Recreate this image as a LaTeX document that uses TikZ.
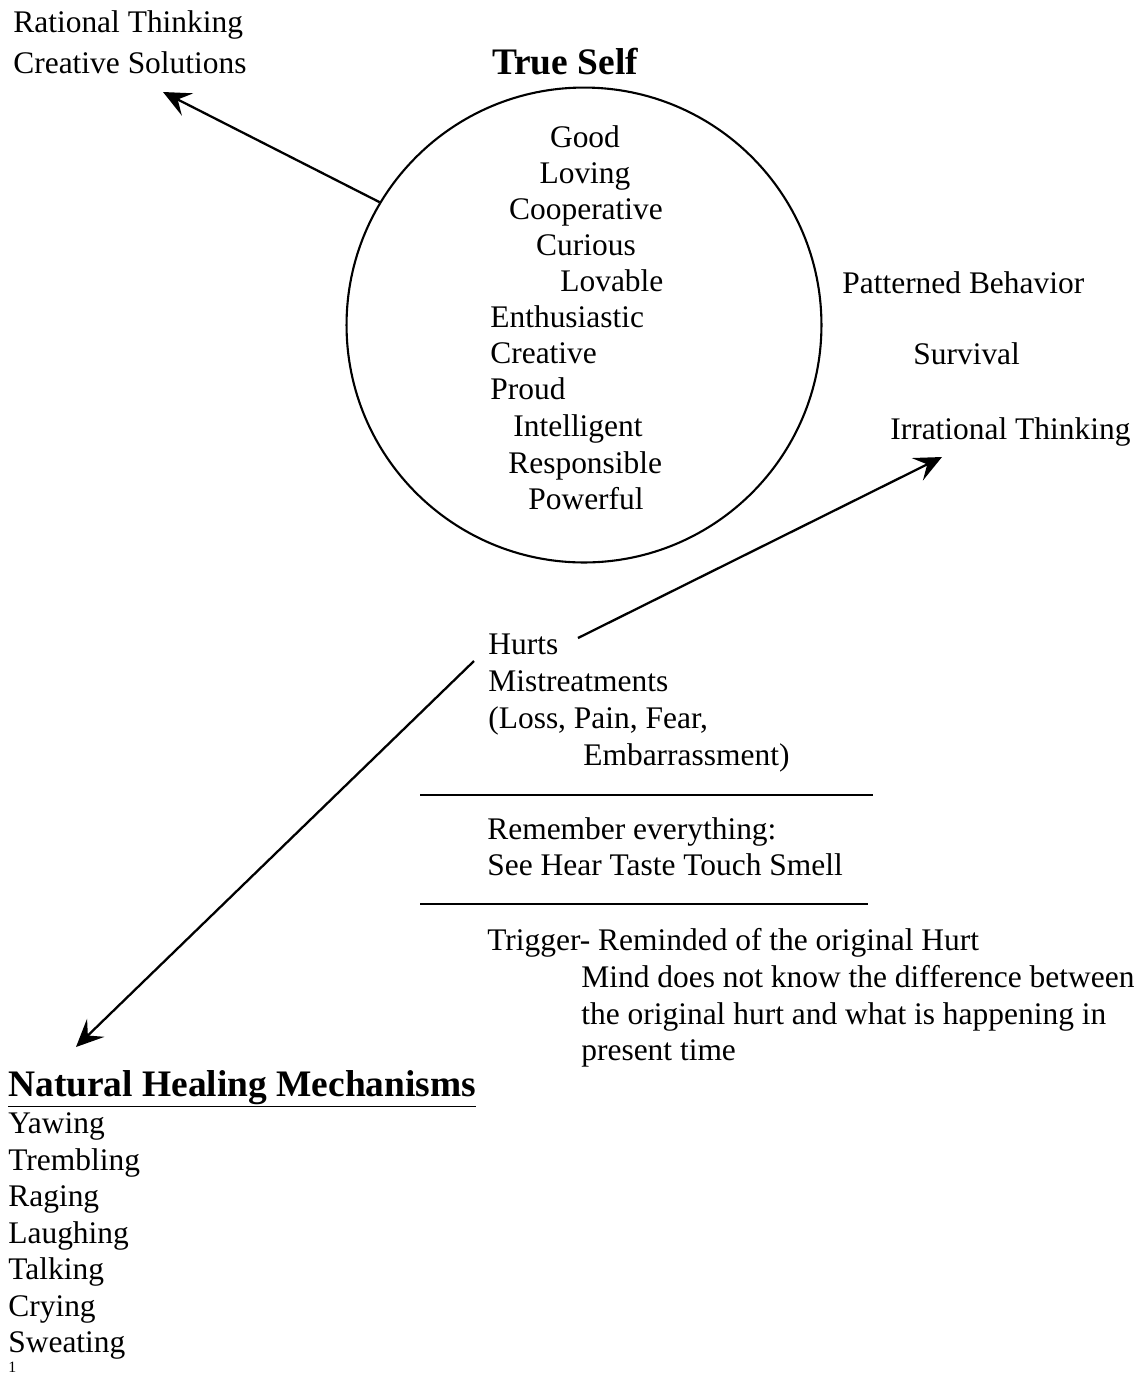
\documentclass[tikz,border=0pt]{standalone}
\usepackage{fontspec}
\setmainfont{Liberation Serif}
\usetikzlibrary{arrows.meta}
\tikzset{
  txt/.style={anchor=base west, inner sep=0pt, font=\fontsize{17.9}{21}\selectfont},
  ctxt/.style={txt, anchor=base},
  hdr/.style={anchor=base west, inner sep=0pt, font=\fontsize{21.3}{24}\selectfont\bfseries},
  arr/.style={line width=1.3pt, -{Stealth[length=0.55cm, width=0.5cm, inset=0.22cm]}},
  rulebar/.style={line width=1.6pt}
}

\begin{document}
\begin{tikzpicture}[x=0.02cm, y=-0.02cm]
			%%%%% START %%%%%
			\useasboundingbox (0,0) rectangle (1143,1374);
			
			\node[hdr, anchor=base] (title) at (565,74) {True Self};
			\node[draw, circle, line width=1.2pt, minimum size=9.5cm, inner sep=0pt] (self) at (584,325) {};
			
			\node[ctxt] (good) at (585,147) {Good};
			\node[ctxt] (loving) at (585,183) {Loving};
			\node[ctxt] (coop) at (586,219) {Cooperative};
			\node[ctxt] (curious) at (586,255) {Curious};
			\node[txt] (lovable) at (560,291) {Lovable};
			\node[txt] (enth) at (490,327) {Enthusiastic};
			\node[txt] (creative) at (490,363) {Creative};
			\node[txt] (proud) at (490,399) {Proud};
			\node[txt] (intel) at (513,436) {Intelligent};
			\node[txt] (resp) at (508,473) {Responsible};
			\node[txt] (power) at (528,509) {Powerful};
			
			\node[txt] (rational) at (13,32) {Rational Thinking};
			\node[txt] (solutions) at (13,73) {Creative Solutions};
			
			\node[txt] (pattern) at (842,293) {Patterned Behavior};
			\node[txt] (survival) at (913,364) {Survival};
			\node[txt] (irrational) at (890,439) {Irrational Thinking};
			
			\node[txt] (hurts) at (488,654) {Hurts};
			\node[txt] (mistreat) at (488,691) {Mistreatments};
			\node[txt] (loss) at (488,728) {(Loss, Pain, Fear,};
			\node[txt] (embar) at (583,765) {Embarrassment)};
			
			\node[txt] (remember) at (487,839) {Remember everything:};
			\node[txt] (senses) at (487,875) {See Hear Taste Touch Smell};
			
			\node[txt] (trigger) at (487,950) {Trigger- Reminded of the original Hurt};
			\node[txt] (mind1) at (581,987) {Mind does not know the difference between};
			\node[txt] (mind2) at (581,1024) {the original hurt and what is happening in};
			\node[txt] (mind3) at (581,1060) {present time};
			
			\node[hdr] (heal) at (8,1096) {\underline{Natural Healing Mechanisms}};
			\node[txt] (yaw) at (8,1133) {Yawing};
			\node[txt] (tremble) at (8,1170) {Trembling};
			\node[txt] (rage) at (8,1206) {Raging};
			\node[txt] (laugh) at (8,1243) {Laughing};
			\node[txt] (talk) at (8,1279) {Talking};
			\node[txt] (cry) at (8,1316) {Crying};
			\node[txt] (sweat) at (8,1352) {Sweating};
			\node[txt, font=\fontsize{9}{10}\selectfont] (pagenum) at (8,1372) {1};
			
			\coordinate (ratTip) at (163,92);
			\coordinate (hurtsR) at (578,638);
			\coordinate (irrTip) at (942,457);
			\coordinate (hurtsL) at (474,661);
			\coordinate (healTip) at (76,1047);
			\draw[arr] (self.149.5) -- (ratTip);
			\draw[arr] (hurtsR) -- (irrTip);
			\draw[arr] (hurtsL) -- (healTip);
			
			\coordinate (barAL) at (420,795);
			\coordinate (barAR) at (873,795);
			\coordinate (barBL) at (420,904);
			\coordinate (barBR) at (868,904);
			\draw[rulebar] (barAL) -- (barAR);
			\draw[rulebar] (barBL) -- (barBR);
			%%%%% END %%%%%
\end{tikzpicture}
\end{document}
